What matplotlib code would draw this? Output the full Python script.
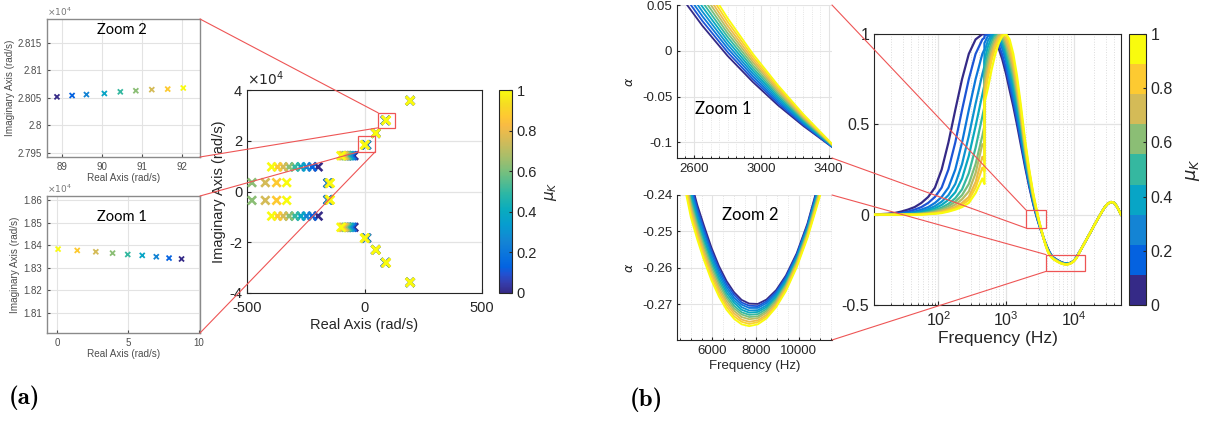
import numpy as np
import matplotlib
matplotlib.use("Agg")
import matplotlib.pyplot as plt
from matplotlib.colors import LinearSegmentedColormap, ListedColormap, Normalize
from matplotlib.cm import ScalarMappable
from matplotlib.patches import Rectangle, ConnectionPatch
from matplotlib.ticker import FuncFormatter, MultipleLocator, LogLocator, NullFormatter

plt.rcParams["font.family"] = ["Liberation Sans", "DejaVu Sans"]
plt.rcParams["axes.unicode_minus"] = False
plt.rcParams["xtick.direction"] = "in"
plt.rcParams["ytick.direction"] = "in"

# ---------------------------------------------------------------- colormap
PARULA_ANCHORS = [
    (0 / 63, (0.2081, 0.1663, 0.5292)),
    (3 / 63, (0.2081, 0.2386, 0.6771)),
    (6 / 63, (0.1253, 0.3242, 0.8303)),
    (8 / 63, (0.0117, 0.3875, 0.8820)),
    (11 / 63, (0.0329, 0.4430, 0.8720)),
    (16 / 63, (0.0793, 0.5200, 0.8312)),
    (21 / 63, (0.0265, 0.6137, 0.8135)),
    (26 / 63, (0.0384, 0.6743, 0.7436)),
    (31 / 63, (0.1801, 0.7177, 0.6424)),
    (37 / 63, (0.4420, 0.7481, 0.5033)),
    (42 / 63, (0.6473, 0.7456, 0.4188)),
    (47 / 63, (0.8185, 0.7327, 0.3498)),
    (52 / 63, (0.9739, 0.7314, 0.2666)),
    (55 / 63, (0.9955, 0.7861, 0.1967)),
    (59 / 63, (0.9626, 0.8705, 0.1309)),
    (63 / 63, (0.9763, 0.9831, 0.0538)),
]
parula = LinearSegmentedColormap.from_list("parula", PARULA_ANCHORS)
parula9 = ListedColormap(parula(np.linspace(0, 1, 9)))

# ---------------------------------------------------------------- (a) poles
# imaginary parts in units of 1e4 rad/s
mu_poles = [0.0, 0.125, 0.25, 0.375, 0.5, 0.625, 0.75, 0.875, 1.0]

far_re = [194, 194, 194, 194, 194, 194, 194, 194, 194]
far_im = [3.58, 3.58, 3.58, 3.58, 3.58, 3.58, 3.58, 3.58, 3.58]

zoom2_re = [88.87, 89.25, 89.61, 90.06, 90.46, 90.85, 91.25, 91.65, 92.04]
zoom2_im = [2.80518, 2.80543, 2.80560, 2.80580, 2.80610, 2.80630, 2.80650, 2.80660, 2.80680]

mid_re = [48, 48, 48, 48, 48, 48, 48, 48, 48]
mid_im = [2.30, 2.30, 2.30, 2.30, 2.30, 2.30, 2.30, 2.30, 2.30]

zoom1_re = [8.77, 7.89, 6.99, 6.00, 4.98, 3.91, 2.73, 1.42, 0.07]
zoom1_im = [1.8340, 1.8344, 1.8350, 1.8356, 1.8360, 1.8366, 1.8372, 1.8378, 1.8384]

slide_re = [-45, -52, -59, -66, -73, -80, -87, -94, -100]
slide_im = [1.41, 1.41, 1.41, 1.41, 1.41, 1.41, 1.41, 1.41, 1.41]

low_re = [-156, -155, -154, -153, -151, -150, -149, -148, -146]
low_im = [0.33, 0.33, 0.33, 0.33, 0.33, 0.33, 0.33, 0.33, 0.33]

row_re = [-197, -222, -247, -271, -296, -321, -346, -370, -395]
row_im = [0.97, 0.97, 0.97, 0.97, 0.97, 0.97, 0.97, 0.97, 0.97]

mu_left = [0.625, 0.75, 0.875, 1.0]
left_re = [-479, -422, -374, -331]
left_im = [0.35, 0.35, 0.35, 0.35]

# ---------------------------------------------------------------- (b) alpha curves
mu_curves = [0.0, 0.1, 0.2, 0.3, 0.4, 0.5, 0.6, 0.7, 0.8, 0.9, 1.0]

freq_rise = [11.2, 14.1, 17.8, 22.4, 28.2, 35.5, 44.7, 56.2, 70.8, 89.1,
             112, 141, 178, 224, 282, 355, 447, 480]
alpha_rise = [
    [0.000, 0.003, 0.005, 0.009, 0.017, 0.028, 0.042, 0.065, 0.098, 0.150, 0.250, 0.400, 0.580, 0.750, 0.890, 0.970, 0.999, 1.000],
    [0.000, 0.000, 0.003, 0.005, 0.009, 0.017, 0.028, 0.042, 0.065, 0.098, 0.150, 0.250, 0.400, 0.580, 0.750, 0.890, 0.970, 0.979],
    [0.000, 0.000, 0.000, 0.003, 0.005, 0.009, 0.017, 0.028, 0.042, 0.065, 0.098, 0.150, 0.250, 0.400, 0.580, 0.750, 0.890, 0.915],
    [0.000, 0.000, 0.000, 0.001, 0.003, 0.006, 0.011, 0.019, 0.031, 0.047, 0.072, 0.108, 0.170, 0.280, 0.436, 0.614, 0.778, 0.821],
    [0.000, 0.000, 0.000, 0.001, 0.002, 0.004, 0.007, 0.013, 0.023, 0.035, 0.054, 0.082, 0.124, 0.200, 0.325, 0.490, 0.665, 0.718],
    [0.000, 0.000, 0.000, 0.000, 0.001, 0.002, 0.005, 0.008, 0.015, 0.026, 0.039, 0.060, 0.091, 0.140, 0.230, 0.370, 0.544, 0.599],
    [0.000, 0.000, 0.000, 0.000, 0.000, 0.001, 0.003, 0.006, 0.011, 0.019, 0.031, 0.047, 0.072, 0.108, 0.170, 0.280, 0.436, 0.492],
    [0.000, 0.000, 0.000, 0.000, 0.000, 0.001, 0.002, 0.004, 0.007, 0.014, 0.024, 0.036, 0.056, 0.085, 0.129, 0.230, 0.390, 0.380],
    [0.000, 0.000, 0.000, 0.000, 0.000, 0.000, 0.000, 0.003, 0.005, 0.009, 0.017, 0.028, 0.042, 0.065, 0.098, 0.180, 0.320, 0.300],
    [0.000, 0.000, 0.000, 0.000, 0.000, 0.000, 0.000, 0.002, 0.004, 0.007, 0.013, 0.023, 0.035, 0.054, 0.082, 0.150, 0.260, 0.240],
    [0.000, 0.000, 0.000, 0.000, 0.000, 0.000, 0.000, 0.000, 0.003, 0.005, 0.009, 0.017, 0.028, 0.042, 0.065, 0.120, 0.200, 0.170],
]

# peak and fall, starting right after the step at 480 Hz
freq_fall = [480, 540, 610, 690, 780, 880, 1000, 1130, 1280, 1450, 1650, 1900, 2200,
             2500, 2650, 2800, 2950, 3100, 3250, 3420, 3650, 3900, 4150, 4400, 4700,
             5000, 5300, 5600, 5950, 6300, 6650, 7000, 7350, 7700, 8100, 8500, 8950,
             9400, 9900, 10400, 10950, 11500]
alpha_fall = [
    [1.000, 0.997, 0.985, 0.960, 0.920, 0.860, 0.780, 0.690, 0.600, 0.500, 0.390, 0.270, 0.155,
     0.0650, 0.0275, -0.0055, -0.0340, -0.0595, -0.0820, -0.1050, -0.1355, -0.1640, -0.1880, -0.2070, -0.2245,
     -0.2362, -0.2428, -0.2483, -0.2544, -0.2595, -0.2636, -0.2667, -0.2688, -0.2698, -0.2699, -0.2687, -0.2661,
     -0.2621, -0.2560, -0.2478, -0.2360, -0.2220],
    [0.990, 1.000, 0.992, 0.972, 0.940, 0.885, 0.810, 0.718, 0.629, 0.527, 0.412, 0.285, 0.1645,
     0.0711, 0.0327, -0.0014, -0.0309, -0.0573, -0.0807, -0.1047, -0.1360, -0.1652, -0.1897, -0.2087, -0.2258,
     -0.2372, -0.2438, -0.2493, -0.2553, -0.2603, -0.2644, -0.2674, -0.2695, -0.2704, -0.2705, -0.2692, -0.2666,
     -0.2625, -0.2564, -0.2482, -0.2365, -0.2225],
    [0.950, 0.989, 1.000, 0.990, 0.965, 0.920, 0.850, 0.746, 0.658, 0.554, 0.434, 0.300, 0.174,
     0.0772, 0.0379, 0.0028, -0.0278, -0.0551, -0.0794, -0.1043, -0.1365, -0.1665, -0.1914, -0.2104, -0.2271,
     -0.2382, -0.2447, -0.2502, -0.2562, -0.2612, -0.2652, -0.2682, -0.2701, -0.2710, -0.2710, -0.2697, -0.2670,
     -0.2630, -0.2568, -0.2486, -0.2370, -0.2230],
    [0.900, 0.963, 0.996, 0.998, 0.980, 0.940, 0.875, 0.774, 0.687, 0.581, 0.456, 0.315, 0.1835,
     0.0832, 0.0430, 0.0069, -0.0248, -0.0530, -0.0782, -0.1040, -0.1370, -0.1677, -0.1931, -0.2121, -0.2284,
     -0.2392, -0.2457, -0.2512, -0.2571, -0.2620, -0.2660, -0.2689, -0.2708, -0.2717, -0.2716, -0.2703, -0.2675,
     -0.2634, -0.2572, -0.2490, -0.2375, -0.2235],
    [0.850, 0.929, 0.980, 0.999, 0.990, 0.955, 0.895, 0.802, 0.716, 0.608, 0.478, 0.330, 0.193,
     0.0893, 0.0482, 0.0110, -0.0217, -0.0508, -0.0769, -0.1036, -0.1375, -0.1689, -0.1948, -0.2138, -0.2297,
     -0.2402, -0.2466, -0.2521, -0.2580, -0.2629, -0.2668, -0.2696, -0.2715, -0.2723, -0.2721, -0.2708, -0.2680,
     -0.2638, -0.2576, -0.2494, -0.2380, -0.2240],
    [0.800, 0.891, 0.957, 0.993, 0.998, 0.970, 0.915, 0.830, 0.745, 0.635, 0.500, 0.345, 0.2025,
     0.0954, 0.0534, 0.0152, -0.0186, -0.0486, -0.0756, -0.1033, -0.1381, -0.1702, -0.1965, -0.2155, -0.2310,
     -0.2412, -0.2476, -0.2531, -0.2589, -0.2637, -0.2676, -0.2704, -0.2722, -0.2729, -0.2727, -0.2713, -0.2685,
     -0.2643, -0.2580, -0.2498, -0.2385, -0.2245],
    [0.760, 0.858, 0.932, 0.980, 0.999, 0.985, 0.935, 0.858, 0.774, 0.662, 0.522, 0.360, 0.212,
     0.1015, 0.0586, 0.0193, -0.0155, -0.0464, -0.0743, -0.1029, -0.1386, -0.1714, -0.1982, -0.2172, -0.2323,
     -0.2422, -0.2485, -0.2540, -0.2598, -0.2645, -0.2683, -0.2711, -0.2728, -0.2735, -0.2733, -0.2718, -0.2689,
     -0.2647, -0.2583, -0.2502, -0.2389, -0.2250],
    [0.720, 0.824, 0.906, 0.963, 0.994, 0.998, 0.955, 0.886, 0.803, 0.689, 0.544, 0.375, 0.2215,
     0.1076, 0.0638, 0.0234, -0.0124, -0.0442, -0.0730, -0.1026, -0.1391, -0.1726, -0.1999, -0.2189, -0.2336,
     -0.2432, -0.2495, -0.2550, -0.2607, -0.2654, -0.2691, -0.2718, -0.2735, -0.2741, -0.2738, -0.2723, -0.2694,
     -0.2651, -0.2587, -0.2506, -0.2394, -0.2255],
    [0.680, 0.788, 0.877, 0.943, 0.983, 0.999, 0.975, 0.914, 0.832, 0.716, 0.566, 0.390, 0.231,
     0.1136, 0.0689, 0.0275, -0.0094, -0.0421, -0.0718, -0.1022, -0.1396, -0.1738, -0.2016, -0.2206, -0.2349,
     -0.2442, -0.2504, -0.2559, -0.2616, -0.2662, -0.2699, -0.2725, -0.2742, -0.2748, -0.2744, -0.2729, -0.2699,
     -0.2655, -0.2591, -0.2510, -0.2399, -0.2260],
    [0.650, 0.760, 0.853, 0.924, 0.971, 0.996, 0.996, 0.942, 0.861, 0.743, 0.588, 0.405, 0.2405,
     0.1197, 0.0741, 0.0317, -0.0063, -0.0399, -0.0705, -0.1019, -0.1401, -0.1751, -0.2033, -0.2223, -0.2362,
     -0.2452, -0.2514, -0.2569, -0.2625, -0.2671, -0.2707, -0.2733, -0.2748, -0.2754, -0.2749, -0.2734, -0.2703,
     -0.2660, -0.2595, -0.2514, -0.2404, -0.2265],
    [0.620, 0.700, 0.800, 0.885, 0.948, 0.988, 1.000, 0.970, 0.890, 0.770, 0.610, 0.420, 0.250,
     0.1258, 0.0793, 0.0358, -0.0032, -0.0377, -0.0692, -0.1015, -0.1406, -0.1763, -0.2050, -0.2240, -0.2375,
     -0.2462, -0.2523, -0.2578, -0.2634, -0.2679, -0.2715, -0.2740, -0.2755, -0.2760, -0.2755, -0.2739, -0.2708,
     -0.2664, -0.2599, -0.2518, -0.2409, -0.2270],
]

# high-frequency part, common to all curves
freq_tail = [13000, 15000, 17500, 20000, 23000, 26000, 29000, 32000, 35500, 39000, 42000, 46000, 50000]
alpha_tail = [-0.188, -0.146, -0.101, -0.060, -0.020, 0.015, 0.043, 0.061, 0.070, 0.067, 0.054, 0.028, 0.000]

# ---------------------------------------------------------------- styling helpers
W, H = 1215, 426
TXT = "#262626"
RED = "#ee5555"
GRID = "#e3e3e3"


def box(px_left, px_top, px_right, px_bottom):
    return [px_left / W, 1 - px_bottom / H, (px_right - px_left) / W, (px_bottom - px_top) / H]


def gfmt(v, pos):
    return f"{v:g}"


def connect(fig, ax_from, xy_from, ax_to, xy_to):
    cp = ConnectionPatch(xyA=xy_from, coordsA=ax_from.transAxes,
                         xyB=xy_to, coordsB=ax_to.transData,
                         color=RED, lw=0.8, zorder=10)
    fig.add_artist(cp)


fig = plt.figure(figsize=(W / 100, H / 100), dpi=100)

# ================================================================ panel (a)
axA = fig.add_axes(box(247, 90, 482, 293))
norm = Normalize(0, 1)
groups = [(far_re, far_im), (zoom2_re, zoom2_im), (mid_re, mid_im), (zoom1_re, zoom1_im),
          (slide_re, slide_im), (low_re, low_im), (row_re, row_im)]
for re, im in groups:
    for sign in (1, -1):
        axA.scatter(re, [sign * v for v in im], c=mu_poles, cmap=parula, norm=norm,
                    marker="x", s=36, linewidths=1.9, zorder=3)
for sign in (1, -1):
    axA.scatter(left_re, [sign * v for v in left_im], c=mu_left, cmap=parula, norm=norm,
                marker="x", s=36, linewidths=1.9, zorder=3)
axA.set_xlim(-500, 500)
axA.set_ylim(-4, 4)
axA.set_xticks([-500, 0, 500])
axA.set_yticks([-4, -2, 0, 2, 4])
axA.yaxis.set_major_formatter(FuncFormatter(gfmt))
axA.grid(True, color=GRID, lw=0.9)
axA.set_axisbelow(True)
axA.tick_params(labelsize=10.5, colors=TXT, length=3)
axA.tick_params(axis="x", pad=6)
for s in axA.spines.values():
    s.set_color(TXT)
axA.set_xlabel("Real Axis (rad/s)", fontsize=10.5, color=TXT, labelpad=2)
axA.set_ylabel("Imaginary Axis (rad/s)", fontsize=10.5, color=TXT, labelpad=2)
axA.text(0.0, 1.012, r"$\times10^4$", transform=axA.transAxes, fontsize=10,
         color=TXT, ha="left", va="bottom")
axA.add_patch(Rectangle((58, 2.51), 73, 0.59, fill=False, ec=RED, lw=0.9, zorder=5))
axA.add_patch(Rectangle((-27, 1.56), 72, 0.63, fill=False, ec=RED, lw=0.9, zorder=5))

caxA = fig.add_axes(box(499, 90, 512, 293))
cbA = fig.colorbar(ScalarMappable(norm=norm, cmap=parula), cax=caxA)
cbA.set_ticks([0, 0.2, 0.4, 0.6, 0.8, 1])
cbA.ax.yaxis.set_major_formatter(FuncFormatter(gfmt))
cbA.ax.tick_params(labelsize=10.5, colors=TXT, length=2)
cbA.outline.set_edgecolor(TXT)
cbA.set_label(r"$\mu_K$", fontsize=11, rotation=90, labelpad=4, color=TXT)

INSET_TXT = "#4d4d4d"


def pole_inset(rect, re, im, xlim, ylim, xticks, yticks, title, title_y):
    ax = fig.add_axes(rect)
    ax.scatter(re, im, c=mu_poles, cmap=parula, norm=norm, marker="x", s=13,
               linewidths=1.3, zorder=3)
    ax.set_xlim(*xlim)
    ax.set_ylim(*ylim)
    ax.set_xticks(xticks)
    ax.set_yticks(yticks)
    ax.xaxis.set_major_formatter(FuncFormatter(gfmt))
    ax.yaxis.set_major_formatter(FuncFormatter(gfmt))
    ax.grid(True, color=GRID, lw=0.8)
    ax.set_axisbelow(True)
    ax.tick_params(labelsize=7, colors=INSET_TXT, length=2)
    for s in ax.spines.values():
        s.set_color("#8a8a8a")
        s.set_linewidth(1.0)
    ax.set_xlabel("Real Axis (rad/s)", fontsize=7.2, color=INSET_TXT, labelpad=1)
    ax.set_ylabel("Imaginary Axis (rad/s)", fontsize=7.2, color=INSET_TXT, labelpad=2)
    ax.text(0.0, 1.005, r"$\times10^4$", transform=ax.transAxes, fontsize=6.5,
            color="#777777", ha="left", va="bottom")
    ax.text(0.49, title_y, title, transform=ax.transAxes, fontsize=10.5,
            family="Lato", ha="center", va="center", color="black")
    return ax


axZ2 = pole_inset(box(47, 19, 200, 157), zoom2_re, zoom2_im, (88.62, 92.46),
                  (2.7942, 2.8194), [89, 90, 91, 92], [2.795, 2.8, 2.805, 2.81, 2.815],
                  "Zoom 2", 0.92)
axZ1 = pole_inset(box(47, 196, 200, 333), zoom1_re, zoom1_im, (-0.71, 10.07),
                  (1.8011, 1.862), [0, 5, 10], [1.81, 1.82, 1.83, 1.84, 1.85, 1.86],
                  "Zoom 1", 0.85)

connect(fig, axZ2, (1, 1), axA, (58, 3.10))
connect(fig, axZ2, (1, 0), axA, (58, 2.51))
connect(fig, axZ1, (1, 1), axA, (-27, 1.56))
connect(fig, axZ1, (1, 0), axA, (45, 1.56))

# ================================================================ panel (b)
curves = []
for i, mu in enumerate(mu_curves):
    f = list(freq_rise) + list(freq_fall) + list(freq_tail)
    a = list(alpha_rise[i]) + list(alpha_fall[i]) + list(alpha_tail)
    curves.append((mu, f, a))

axB = fig.add_axes(box(874, 34, 1121, 305))
for mu, f, a in curves:
    axB.plot(f, a, color=parula(mu), lw=1.6, zorder=3)
axB.set_xscale("log")
axB.set_xlim(11.2, 50000)
axB.set_ylim(-0.5, 1)
axB.set_yticks([-0.5, 0, 0.5, 1])
axB.yaxis.set_major_formatter(FuncFormatter(gfmt))
axB.set_xticks([100, 1000, 10000])
axB.xaxis.set_minor_locator(LogLocator(base=10, subs=np.arange(2, 10)))
axB.xaxis.set_minor_formatter(NullFormatter())
axB.grid(True, which="major", color=GRID, lw=0.9)
axB.grid(True, which="minor", axis="x", color="#dcdcdc", lw=0.7, ls=":")
axB.set_axisbelow(True)
axB.tick_params(labelsize=11.5, colors=TXT, length=3)
axB.tick_params(which="minor", length=1.5)
for s in axB.spines.values():
    s.set_color(TXT)
axB.set_xlabel("Frequency (Hz)", fontsize=12.5, color=TXT, labelpad=2)
axB.add_patch(Rectangle((1972, -0.074), 3945 - 1972, 0.100, fill=False, ec=RED, lw=0.9, zorder=5))
axB.add_patch(Rectangle((3900, -0.314), 14550 - 3900, 0.093, fill=False, ec=RED, lw=0.9, zorder=5))

caxB = fig.add_axes(box(1129, 34, 1146, 305))
cbB = fig.colorbar(ScalarMappable(norm=norm, cmap=parula9), cax=caxB)
cbB.set_ticks([0, 0.2, 0.4, 0.6, 0.8, 1])
cbB.ax.yaxis.set_major_formatter(FuncFormatter(gfmt))
cbB.ax.tick_params(labelsize=11.5, colors=TXT, length=2)
cbB.outline.set_edgecolor(TXT)
cbB.set_label(r"$\mu_K$", fontsize=13, rotation=90, labelpad=8, color=TXT)


def alpha_inset(rect, xlim, ylim, xticks, yticks, xminor, title, tx, ty, xlabel=None):
    ax = fig.add_axes(rect)
    for mu, f, a in curves:
        ax.plot(f, a, color=parula(mu), lw=1.3, zorder=3)
    ax.set_xlim(*xlim)
    ax.set_ylim(*ylim)
    ax.set_xticks(xticks)
    ax.set_yticks(yticks)
    ax.xaxis.set_minor_locator(MultipleLocator(xminor))
    ax.xaxis.set_major_formatter(FuncFormatter(gfmt))
    ax.yaxis.set_major_formatter(FuncFormatter(gfmt))
    ax.grid(True, which="major", color=GRID, lw=0.8)
    ax.grid(True, which="minor", axis="x", color="#dddddd", lw=0.6, ls=":")
    ax.set_axisbelow(True)
    ax.tick_params(labelsize=9.5, colors=TXT, length=2.5)
    ax.tick_params(which="minor", length=1.5)
    ax.spines["top"].set_visible(False)
    ax.spines["right"].set_visible(False)
    for s in ("left", "bottom"):
        ax.spines[s].set_color(TXT)
    ax.set_ylabel(r"$\alpha$", fontsize=9, color=TXT, labelpad=4)
    if xlabel:
        ax.set_xlabel(xlabel, fontsize=9.5, color=TXT, labelpad=2)
    ax.text(tx, ty, title, transform=ax.transAxes, fontsize=12,
            family="Lato", ha="center", va="center", color="black")
    return ax


axb1 = alpha_inset(box(677, 5, 832, 158), (2500, 3420), (-0.117, 0.05),
                   [2600, 3000, 3400], [-0.1, -0.05, 0, 0.05], 50, "Zoom 1", 0.30, 0.318)
axb2 = alpha_inset(box(677, 195, 832, 340), (4357, 11535), (-0.2798, -0.24),
                   [6000, 8000, 10000], [-0.27, -0.26, -0.25, -0.24], 500, "Zoom 2", 0.47, 0.862,
                   xlabel="Frequency (Hz)")

connect(fig, axb1, (1, 1), axB, (1972, 0.026))
connect(fig, axb1, (1, 0), axB, (1972, -0.074))
connect(fig, axb2, (1, 1), axB, (3900, -0.221))
connect(fig, axb2, (1, 0), axB, (3900, -0.314))

# ================================================================ panel tags
fig.text(24 / W, 1 - 398 / H, "(a)", family="cmb10", fontsize=18,
         ha="center", va="center")
fig.text(646 / W, 1 - 400 / H, "(b)", family="cmb10", fontsize=18,
         ha="center", va="center")

fig.savefig("out.png", dpi=100)
